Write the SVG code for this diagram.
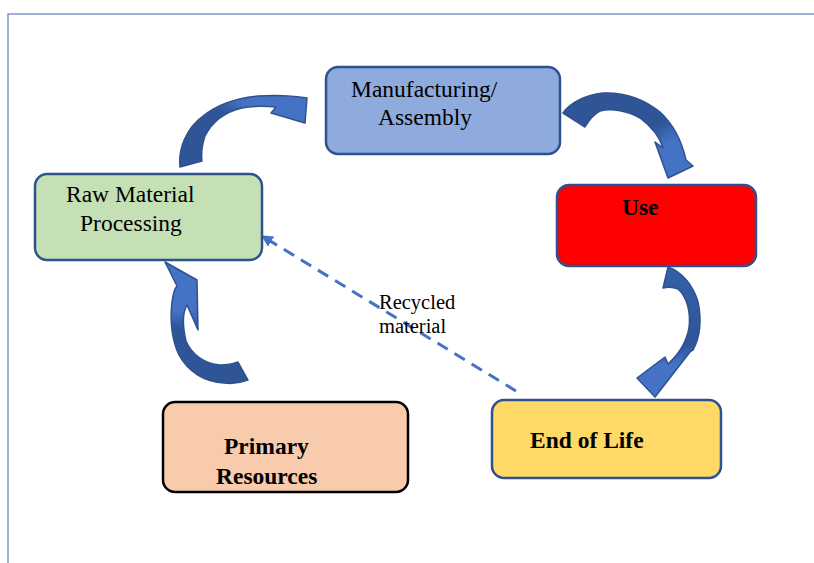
<svg xmlns="http://www.w3.org/2000/svg" width="814" height="563" viewBox="0 0 814 563">
<style>
.box{stroke:#2f528f;stroke-width:2.5}
.t{font-family:'Liberation Serif','Times New Roman','DejaVu Serif',serif;font-size:23.5px;fill:#000}
.s{font-size:20.5px}
.b{font-weight:bold}
.arr{stroke:#2f528f;stroke-width:1.5;stroke-linejoin:round}
.frame{stroke:#7f98c6;stroke-width:1.5;fill:none}
</style>
<defs>
<linearGradient id="g1" x1="0" y1="1" x2="1" y2="0"><stop offset="0" stop-color="#2f5597"/><stop offset="0.55" stop-color="#2f5597"/><stop offset="0.7" stop-color="#4472c4"/></linearGradient>
<linearGradient id="g2" x1="0" y1="0" x2="1" y2="1"><stop offset="0" stop-color="#2f5597"/><stop offset="0.55" stop-color="#2f5597"/><stop offset="0.7" stop-color="#4472c4"/></linearGradient>
<linearGradient id="g3" x1="0" y1="0" x2="0" y2="1"><stop offset="0" stop-color="#3560a8"/><stop offset="0.6" stop-color="#2f5597"/><stop offset="0.75" stop-color="#4472c4"/></linearGradient>
<linearGradient id="g4" x1="0" y1="1" x2="0" y2="0"><stop offset="0" stop-color="#2f5597"/><stop offset="0.45" stop-color="#2f5597"/><stop offset="0.6" stop-color="#4472c4"/></linearGradient>
<marker id="ah" viewBox="0 0 10 10" refX="9" refY="5" markerWidth="4" markerHeight="4" orient="auto"><path d="M0,0 L10,5 L0,10 z" fill="#4472c4"/></marker>
</defs>
<path class="frame" d="M8,563 V14 H814"/>
<g id="connectors">
<path class="arr" fill="url(#g1)" d="M180,167 C178,150 186,128 203,116 C218,104 236,98 258,96 C275,95 295,96 307,98 L305,123 L271,113 L276,107 C265,106 252,106 242,108 C225,112 212,122 205,136 C202,145 201,153 202,161 Z"/>
<path class="arr" fill="url(#g2)" d="M563,113 C570,103 585,95 603,93 C625,92 645,100 660,112 C673,124 682,142 686,160 L693,166 L668,178 L655,142 L663,148 C660,138 652,127 640,118 C628,111 612,108 600,111 C594,114 589,120 585,127 Z"/>
<path class="arr" fill="url(#g3)" d="M668,267 C682,272 693,285 698,302 C702,320 700,338 693,350 L690,352 L655,397 L637,378 L665,357 L668,364 C677,356 686,344 689,328 C691,312 687,297 678,289 C673,287 668,287 663,288 Z"/>
<path class="arr" fill="url(#g4)" d="M165,262 L197,280 L198,330 L187,305 C183,312 182,324 186,341 C192,355 205,364 220,365 C228,365 233,364 238,362 L248,380 C240,383 232,384 224,383 C205,382 188,372 179,355 C172,340 170,320 172,302 C173,294 175,288 177,286 Z"/>
<line x1="516" y1="391" x2="262" y2="236" stroke="#4472c4" stroke-width="3" stroke-dasharray="12,8" marker-end="url(#ah)"/>
<text class="t s" x="379" y="309">Recycled</text>
<text class="t s" x="379" y="333">material</text>
</g>
<g id="manufacturing">
<rect class="box" x="326" y="67" width="234" height="87" rx="12" fill="#8faadc"/>
<text class="t" x="351" y="97">Manufacturing/</text>
<text class="t" x="378" y="125">Assembly</text>
</g>
<g id="raw-material">
<rect class="box" x="35" y="174" width="227" height="86" rx="12" fill="#c5e0b4"/>
<text class="t" x="66" y="202">Raw Material</text>
<text class="t" x="80" y="231">Processing</text>
</g>
<g id="use">
<rect class="box" x="557" y="185" width="199" height="81" rx="12" fill="#ff0000"/>
<text class="t b" x="622" y="215">Use</text>
</g>
<g id="primary-resources">
<rect x="163" y="402" width="245" height="90" rx="12" fill="#f8cbad" stroke="#000" stroke-width="2.5"/>
<text class="t b" x="224" y="454">Primary</text>
<text class="t b" x="216" y="484">Resources</text>
</g>
<g id="end-of-life">
<rect class="box" x="492" y="400" width="229" height="78" rx="12" fill="#ffd966"/>
<text class="t b" x="530" y="448">End of Life</text>
</g>
</svg>
